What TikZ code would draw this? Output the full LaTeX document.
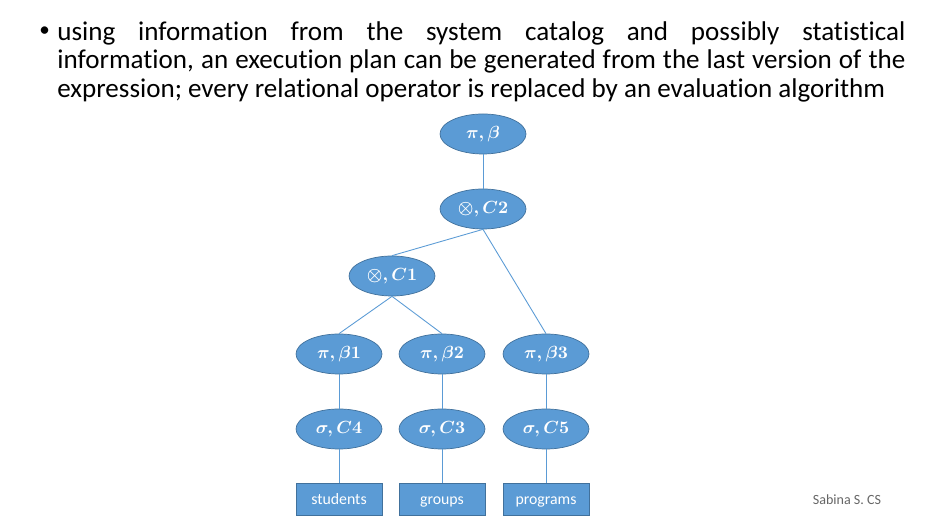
\documentclass[tikz,border=0pt]{standalone}
\usepackage{fontspec}
\setmainfont[Ligatures=NoCommon]{Carlito}
\usepackage{xcolor}
\usetikzlibrary{shapes.geometric}
\definecolor{opblue}{HTML}{5B9BD5}
\definecolor{opedge}{HTML}{41719C}
\tikzstyle{every node}=[font=\small]
\tikzstyle{op} = [ellipse, draw=opedge, fill=opblue, text=white, font=\normalsize\boldmath, minimum width=1.72cm, minimum height=0.8cm, inner sep=0pt, node distance=1.5cm]
\tikzstyle{rel} = [rectangle, draw=opedge, fill=opblue, text=white, text height=1.6ex, text depth=0.4ex, minimum width=1.72cm, minimum height=0.64cm, inner sep=0pt, node distance=1.4cm]
\tikzstyle{line} = [draw=opblue, line width=0.5pt]

\begin{document}
\begin{tikzpicture}
    \useasboundingbox (0,0) rectangle (18.6,10.46);
    % Bullet text
    \node [anchor=base west, inner sep=0pt, font=\fontsize{12}{14}\selectfont] (dot) at (0.78,9.72) {\textbullet};
    \node [anchor=north west, inner sep=0pt, text width=16.96cm, align=justify, font=\fontsize{15.4}{16.4}\selectfont] (bullet) at (1.14,10.04)
      {using information from the system catalog and possibly statistical\linebreak information, an execution plan can be generated from the last version of the\linebreak expression; every relational operator is replaced by an evaluation algorithm};
    % Place nodes
    \node [op] (proj) at (9.66,7.78) {$\pi,\beta$};
    \node [op, below of=proj] (join2) {$\otimes,C2$};
    \node [op] (join1) at (7.84,4.94) {$\otimes,C1$};
    \node [op] (proj1) at (6.78,3.38) {$\pi,\beta1$};
    \node [op] (proj2) at (8.84,3.38) {$\pi,\beta2$};
    \node [op] (proj3) at (10.92,3.38) {$\pi,\beta3$};
    \node [op, below of=proj1] (sel4) {$\sigma,C4$};
    \node [op, below of=proj2] (sel3) {$\sigma,C3$};
    \node [op, below of=proj3] (sel5) {$\sigma,C5$};
    \node [rel, below of=sel4] (students) {students};
    \node [rel, below of=sel3] (groups) {groups};
    \node [rel, below of=sel5] (programs) {programs};
    % Draw edges
    \path [line] (proj) -- (join2);
    \path [line] (join2.south) -- (join1.north);
    \path [line] (join2.south) -- (proj3.north);
    \path [line] (join1.south) -- (proj1.north);
    \path [line] (join1.south) -- (proj2.north);
    \path [line] (proj1) -- (sel4);
    \path [line] (proj2) -- (sel3);
    \path [line] (proj3) -- (sel5);
    \path [line] (sel4) -- (students);
    \path [line] (sel3) -- (groups);
    \path [line] (sel5) -- (programs);
    % Footer
    \node [font=\footnotesize, text=black!60] (author) at (16.94,0.46) {Sabina S. CS};
\end{tikzpicture}
\end{document}
